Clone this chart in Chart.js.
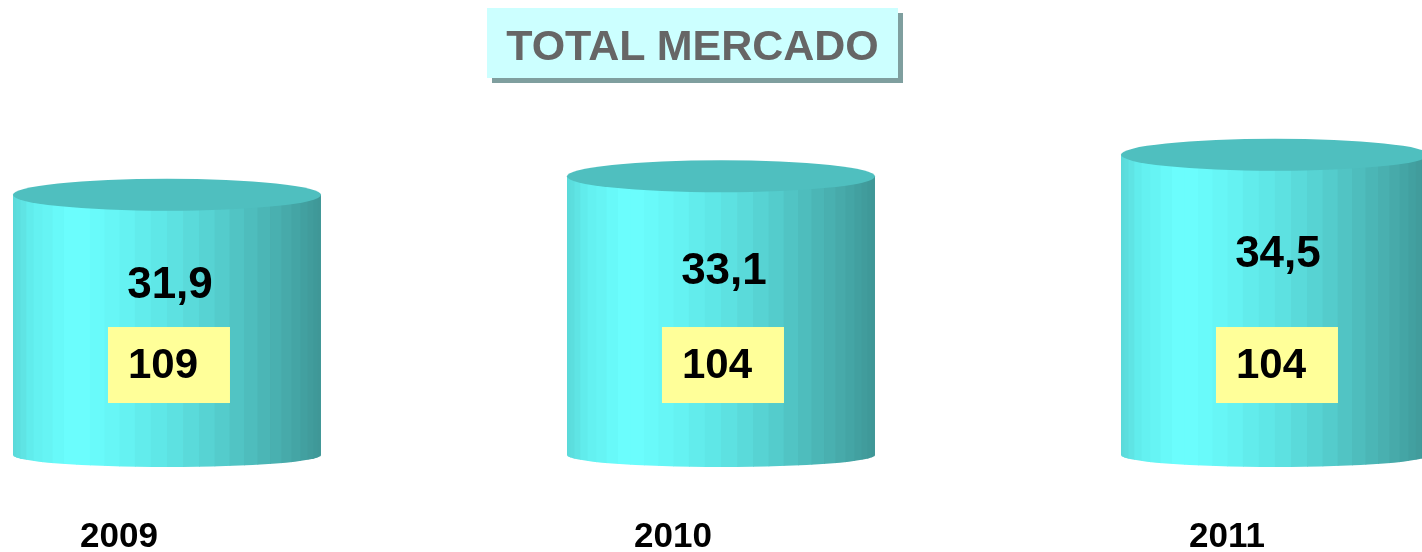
<!DOCTYPE html>
<html>
<head>
<meta charset="utf-8">
<script src="https://cdn.jsdelivr.net/npm/chart.js@4/dist/chart.umd.min.js"></script>
<style>
  html, body { margin: 0; padding: 0; background: #fff; }
  #wrap { position: relative; width: 1422px; height: 552px; overflow: hidden; }
  #title {
    position: absolute; left: 487px; top: 8px; width: 411px; height: 70px;
    background: #ccffff; box-shadow: 5px 5px 0 #7f9f9f;
    font: bold 43px "Liberation Sans", Arial, sans-serif; color: #666666;
    text-align: center; line-height: 74px;
  }
  canvas { position: absolute; left: 0; top: 0; }
</style>
</head>
<body>
<div id="wrap">
  <canvas id="mercado" width="1422" height="552"></canvas>
  <div id="title">TOTAL MERCADO</div>
</div>
<script>
const years = [2009, 2010, 2011];
const marketValues = [31.9, 33.1, 34.5];
const indexValues = [109, 104, 104];

// strip colours across the cylinder body, left to right
const bodyStops = [
  [0, "#5ad8d8"], [0.06, "#62eeee"], [0.2, "#6cffff"], [0.35, "#66f4f4"],
  [0.5, "#5ee4e4"], [0.65, "#56d0d0"], [0.78, "#4dbcbc"], [0.9, "#46a8a8"], [1, "#3e9696"]
];

function hexToRgb(h) {
  return [1, 3, 5].map(i => parseInt(h.slice(i, i + 2), 16));
}

function bodyColor(t) {
  for (let k = 1; k < bodyStops.length; k++) {
    if (t <= bodyStops[k][0]) {
      const [t0, c0] = bodyStops[k - 1];
      const [t1, c1] = bodyStops[k];
      const f = (t - t0) / (t1 - t0);
      const a = hexToRgb(c0), b = hexToRgb(c1);
      return "rgb(" + a.map((v, j) => Math.round(v + (b[j] - v) * f)).join(",") + ")";
    }
  }
  return bodyStops[bodyStops.length - 1][1];
}

function drawCylinder(ctx, cx, top, base, w) {
  const r = w / 2, ryTop = 16, ryBot = 12;
  ctx.save();
  ctx.beginPath();
  ctx.moveTo(cx - r, top);
  ctx.lineTo(cx - r, base);
  ctx.ellipse(cx, base, r, ryBot, 0, Math.PI, 0, true);
  ctx.lineTo(cx + r, top);
  ctx.closePath();
  ctx.clip();
  const n = 30;
  for (let k = 0; k < n; k++) {
    const x0 = cx - r * Math.cos(Math.PI * k / n);
    const x1 = cx - r * Math.cos(Math.PI * (k + 1) / n);
    const t = ((x0 + x1) / 2 - (cx - r)) / w;
    ctx.fillStyle = bodyColor(t);
    ctx.fillRect(x0, top - 2, x1 - x0 + 0.7, base - top + ryBot + 4);
  }
  ctx.restore();
  ctx.beginPath();
  ctx.ellipse(cx, top, r, ryTop, 0, 0, Math.PI * 2);
  ctx.fillStyle = "#4fbfbf";
  ctx.fill();
}

const cylinderPlugin = {
  id: "cylinders",
  afterDatasetsDraw(chart) {
    const ctx = chart.ctx;
    chart.getDatasetMeta(0).data.forEach((bar, i) => {
      const { x, y, base, width } = bar.getProps(["x", "y", "base", "width"], true);
      drawCylinder(ctx, x, y, base, width);

      ctx.fillStyle = "#000";
      ctx.textAlign = "center";
      ctx.textBaseline = "middle";
      ctx.font = 'bold 44px "Liberation Sans", Arial, sans-serif';
      ctx.fillText(marketValues[i].toFixed(1).replace(".", ","), x + 3, y + 0.2125 * (base - y) + 36);

      const bx = x - 59, by = base - 128;
      ctx.fillStyle = "#ffff99";
      ctx.fillRect(bx, by, 122, 76);
      ctx.fillStyle = "#000";
      ctx.textAlign = "left";
      ctx.font = 'bold 42px "Liberation Sans", Arial, sans-serif';
      ctx.fillText(String(indexValues[i]), bx + 20, by + 39);
    });
  }
};

const xMin = 2008.6986, xMax = 2011.2654;
const labelShift = 48 / 554;

const ctx = document.getElementById("mercado").getContext("2d");
new Chart(ctx, {
  type: "bar",
  data: {
    datasets: [{
      data: years.map((yr, i) => ({ x: yr, y: marketValues[i] })),
      base: 15,
      backgroundColor: "rgba(0,0,0,0)",
      borderWidth: 0,
      barPercentage: 0.556,
      categoryPercentage: 1
    }]
  },
  options: {
    responsive: false,
    animation: false,
    layout: { padding: { top: 0, left: 0, right: 0, bottom: -3 } },
    plugins: { legend: { display: false }, tooltip: { enabled: false } },
    scales: {
      x: {
        type: "linear", display: false, offset: false, min: xMin, max: xMax,
        ticks: { stepSize: 1, includeBounds: false }
      },
      y: { display: false, min: 10.78, max: 44.55 },
      x2: {
        type: "linear",
        position: "bottom",
        offset: false,
        min: xMin + labelShift,
        max: xMax + labelShift,
        grid: { display: false, drawTicks: false },
        border: { display: false },
        ticks: {
          stepSize: 1,
          includeBounds: false,
          autoSkip: false,
          maxRotation: 0,
          padding: 0,
          color: "#000",
          font: { family: '"Liberation Sans", Arial, sans-serif', size: 35, weight: "bold", lineHeight: 1 },
          callback: v => Number.isInteger(v) ? String(v) : ""
        }
      }
    }
  },
  plugins: [cylinderPlugin]
});
</script>
</body>
</html>
